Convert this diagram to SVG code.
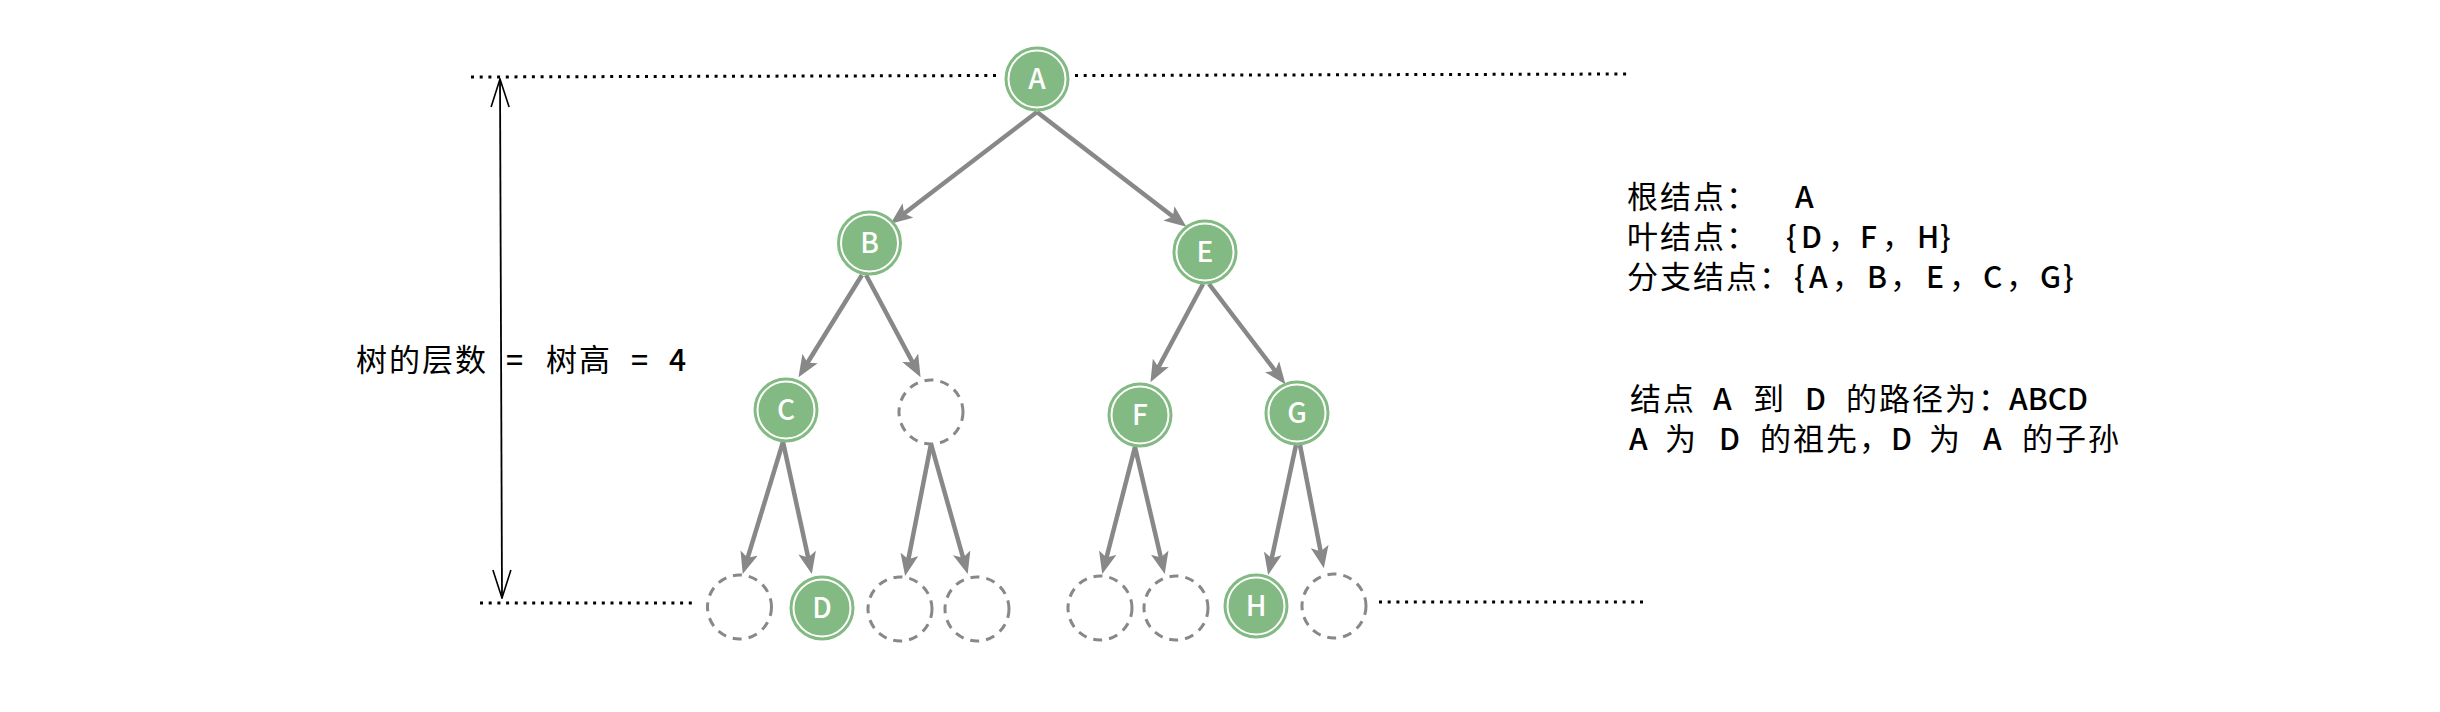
<svg xmlns="http://www.w3.org/2000/svg" width="2440" height="712" viewBox="0 0 2440 712">
<style>
.edge{stroke:#888888;stroke-width:4.5;fill:none;marker-end:url(#arr)}
.dot{stroke:#000;stroke-width:3;stroke-dasharray:3 5.7;fill:none}
.node .o{fill:#83ba83;stroke:#83ba83;stroke-width:2}
.node .i{fill:none;stroke:#fff;stroke-width:2}
.node text{font-family:"Noto Sans CJK SC","Noto Sans",sans-serif;font-size:28px;font-weight:500;fill:#fff;text-anchor:middle}
.empty circle{fill:none;stroke:#888888;stroke-width:3;stroke-dasharray:9 7}
.t{font-family:"Noto Sans CJK SC","Noto Sans",sans-serif;font-size:31px;fill:#000}
.c{letter-spacing:2px}
.l{font-size:30px;font-weight:500}
</style>
<defs>
<marker id="arr" viewBox="0 0 22 18" refX="7" refY="9" markerWidth="22" markerHeight="18" markerUnits="userSpaceOnUse" orient="auto">
<path d="M0,0 L22,9 L0,18 L5,9 Z" fill="#888888"/>
</marker>
<marker id="open" viewBox="0 0 30 20" refX="29" refY="10" markerWidth="30" markerHeight="20" markerUnits="userSpaceOnUse" orient="auto-start-reverse">
<path d="M1,1 L29,10 L1,19" fill="none" stroke="#000" stroke-width="1.6"/>
</marker>
</defs>
<rect width="2440" height="712" fill="#fff"/>

<g id="guides">
<line class="dot" x1="471" y1="77" x2="998" y2="75.5"/>
<line class="dot" x1="1075" y1="75.5" x2="1628" y2="74"/>
<line class="dot" x1="480" y1="603" x2="692" y2="603"/>
<line class="dot" x1="1379" y1="602" x2="1643" y2="602"/>
<line x1="500" y1="79" x2="502" y2="598" stroke="#000" stroke-width="1.8" marker-start="url(#open)" marker-end="url(#open)"/>
</g>

<g id="connectors">
<line class="edge" x1="1037" y1="112" x2="902.5" y2="214.7"/>
<line class="edge" x1="1037" y1="112" x2="1174.5" y2="217.7"/>
<line class="edge" x1="862" y1="275" x2="806.4" y2="364.5"/>
<line class="edge" x1="866" y1="275" x2="913.5" y2="364"/>
<line class="edge" x1="1203" y1="284" x2="1157.5" y2="369"/>
<line class="edge" x1="1209" y1="284" x2="1276.3" y2="372.3"/>
<line class="edge" x1="783" y1="442" x2="747.1" y2="559.7"/>
<line class="edge" x1="783" y1="442" x2="808.6" y2="559.4"/>
<line class="edge" x1="931" y1="444" x2="908" y2="561.3"/>
<line class="edge" x1="931" y1="444" x2="963.6" y2="559.6"/>
<line class="edge" x1="1135" y1="447" x2="1106" y2="559.5"/>
<line class="edge" x1="1135" y1="447" x2="1161.3" y2="559.5"/>
<line class="edge" x1="1296" y1="445" x2="1271.3" y2="560.3"/>
<line class="edge" x1="1300" y1="445" x2="1321" y2="553.4"/>
</g>

<g id="node-A" class="node"><circle class="o" cx="1037" cy="79" r="31.5"/><circle class="i" cx="1037" cy="79" r="28.5"/><text x="1037" y="89">A</text></g>
<g id="node-B" class="node"><circle class="o" cx="869.5" cy="243" r="31.5"/><circle class="i" cx="869.5" cy="243" r="28.5"/><text x="869.5" y="253">B</text></g>
<g id="node-E" class="node"><circle class="o" cx="1205" cy="252" r="31.5"/><circle class="i" cx="1205" cy="252" r="28.5"/><text x="1205" y="262">E</text></g>
<g id="node-C" class="node"><circle class="o" cx="786" cy="410" r="31.5"/><circle class="i" cx="786" cy="410" r="28.5"/><text x="786" y="420">C</text></g>
<g id="node-n1" class="empty"><circle cx="931" cy="412" r="32"/></g>
<g id="node-F" class="node"><circle class="o" cx="1140" cy="415" r="31.5"/><circle class="i" cx="1140" cy="415" r="28.5"/><text x="1140" y="425">F</text></g>
<g id="node-G" class="node"><circle class="o" cx="1297" cy="413" r="31.5"/><circle class="i" cx="1297" cy="413" r="28.5"/><text x="1297" y="423">G</text></g>
<g id="node-n2" class="empty"><circle cx="739.5" cy="607" r="32"/></g>
<g id="node-D" class="node"><circle class="o" cx="822" cy="608" r="31.5"/><circle class="i" cx="822" cy="608" r="28.5"/><text x="822" y="618">D</text></g>
<g id="node-n3" class="empty"><circle cx="900" cy="609" r="32"/></g>
<g id="node-n4" class="empty"><circle cx="977" cy="609" r="32"/></g>
<g id="node-n5" class="empty"><circle cx="1100" cy="608" r="32"/></g>
<g id="node-n6" class="empty"><circle cx="1176" cy="608" r="32"/></g>
<g id="node-H" class="node"><circle class="o" cx="1256" cy="606" r="31.5"/><circle class="i" cx="1256" cy="606" r="28.5"/><text x="1256" y="616">H</text></g>
<g id="node-n7" class="empty"><circle cx="1334" cy="606" r="32"/></g>

<g id="height-label">
<text class="t" y="371"><tspan class="c" x="356">树的层数</tspan><tspan class="l" x="506">=</tspan><tspan class="c" x="546">树高</tspan><tspan class="l" x="631">=</tspan><tspan class="l" x="669">4</tspan></text>
</g>

<g id="info">
<text class="t" y="208"><tspan class="c" x="1627">根结点：</tspan><tspan class="l" x="1795">A</tspan></text>
<text class="t" y="248"><tspan class="c" x="1627">叶结点：</tspan><tspan class="l" x="1786">{</tspan><tspan class="l" x="1801">D</tspan><tspan x="1828">，</tspan><tspan class="l" x="1860">F</tspan><tspan x="1882">，</tspan><tspan class="l" x="1917">H</tspan><tspan class="l" x="1940">}</tspan></text>
<text class="t" y="288"><tspan class="c" x="1627">分支结点：</tspan><tspan class="l" x="1794">{</tspan><tspan class="l" x="1809">A</tspan><tspan x="1832">，</tspan><tspan class="l" x="1867">B</tspan><tspan x="1890">，</tspan><tspan class="l" x="1926">E</tspan><tspan x="1949">，</tspan><tspan class="l" x="1983">C</tspan><tspan x="2006">，</tspan><tspan class="l" x="2040">G</tspan><tspan class="l" x="2063">}</tspan></text>
<text class="t" y="410"><tspan class="c" x="1630">结点</tspan><tspan class="l" x="1713">A</tspan><tspan class="c" x="1753">到</tspan><tspan class="l" x="1805">D</tspan><tspan class="c" x="1846">的路径为：</tspan><tspan class="l" x="2009">ABCD</tspan></text>
<text class="t" y="450"><tspan class="l" x="1629">A</tspan><tspan class="c" x="1665">为</tspan><tspan class="l" x="1719">D</tspan><tspan class="c" x="1760">的祖先，</tspan><tspan class="l" x="1891">D</tspan><tspan class="c" x="1929">为</tspan><tspan class="l" x="1983">A</tspan><tspan class="c" x="2022">的子孙</tspan></text>
</g>
</svg>
